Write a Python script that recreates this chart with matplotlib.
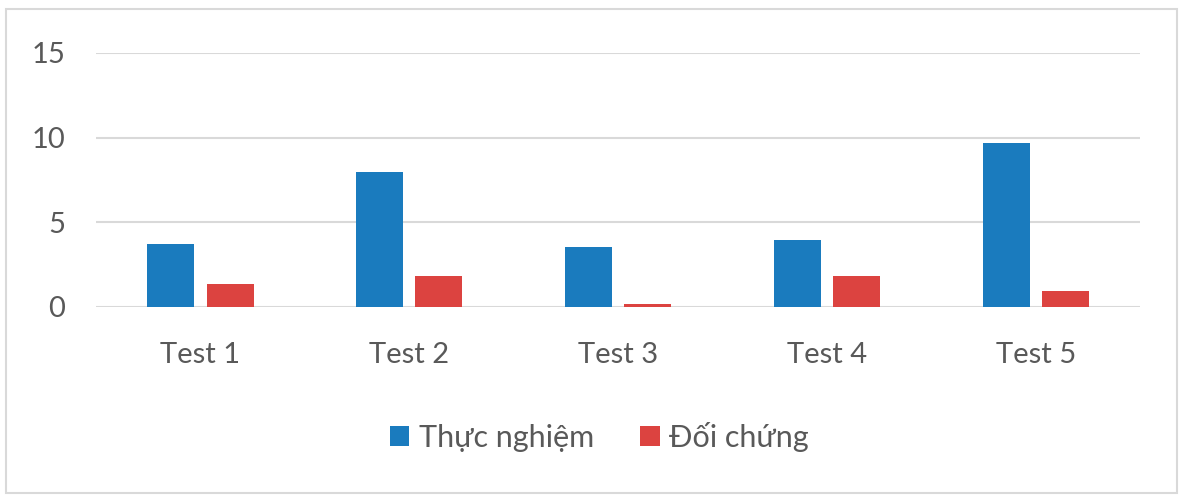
import matplotlib
matplotlib.use('Agg')
import matplotlib.pyplot as plt
import numpy as np
from matplotlib.patches import Rectangle

# chart data
tests = ['Test 1', 'Test 2', 'Test 3', 'Test 4', 'Test 5']
thuc_nghiem = [3.73, 7.98, 3.53, 3.96, 9.67]
doi_chung = [1.37, 1.82, 0.16, 1.82, 0.92]
series_names = ['Thực nghiệm', 'Đối chứng']
y_ticks = [0, 5, 10, 15]

plt.rcParams['font.family'] = ['Lato', 'Noto Sans', 'DejaVu Sans']
text_grey = '#595959'
blue = '#1A7BBE'
red = '#DC4340'

fig = plt.figure(figsize=(11.79, 4.95), dpi=100)
ax = fig.add_axes([0.0814, 0.3798, 0.967 - 0.0814, 0.893 - 0.3798])

x = np.arange(len(tests))
w = 0.225
off = 0.142
b1 = ax.bar(x - off, thuc_nghiem, w, color=blue, label=series_names[0], zorder=3)
b2 = ax.bar(x + off, doi_chung, w, color=red, label=series_names[1], zorder=3)

ax.set_xlim(-0.5, 4.5)
ax.set_ylim(0, 15)
ax.set_yticks(y_ticks)
ax.set_xticks(x)
ax.set_xticklabels(tests)
ax.tick_params(axis='both', length=0, labelsize=21, colors=text_grey)
ax.tick_params(axis='x', pad=25)
ax.tick_params(axis='y', pad=22)
ax.yaxis.grid(True, color='#d9d9d9', linewidth=1.5, zorder=0)
for s in ax.spines.values():
    s.set_visible(False)

# outer chart border
fig.patches.append(Rectangle((6 / 1179, 2 / 495), 1171 / 1179, 484 / 495,
                             transform=fig.transFigure, fill=False,
                             edgecolor='#d9d9d9', linewidth=1.5))

fig.legend(handles=[b1, b2], labels=series_names, loc='center',
           bbox_to_anchor=(0.508, 1 - 437 / 495), ncol=2, frameon=False,
           fontsize=22, labelcolor=text_grey, handlelength=0.65,
           handleheight=0.65, handletextpad=0.3, columnspacing=1.5)

fig.savefig('out.png', dpi=100, facecolor='white')
